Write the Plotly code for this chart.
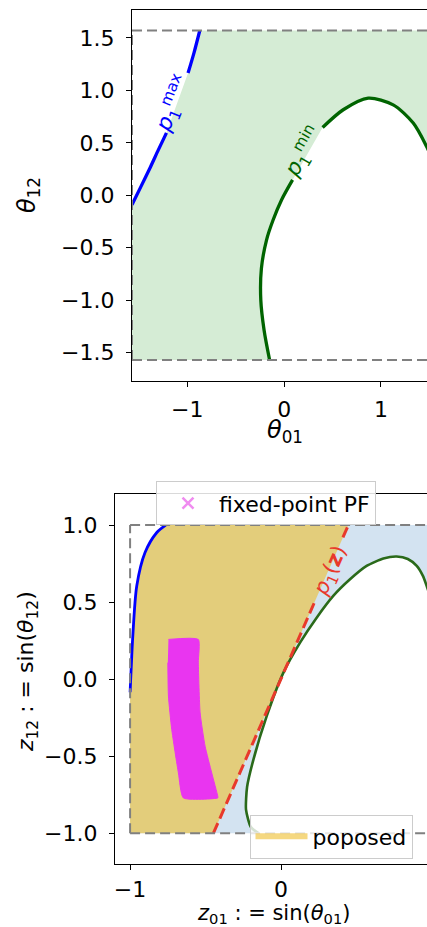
import math
import plotly.graph_objects as go

PI2 = math.pi / 2

# ---------------- top panel: theta space ----------------
box_theta = [-PI2, PI2]
# p1^max contour (label gap between the two pieces)
pmax_lo_t01 = [-1.5708, -1.48, -1.38, -1.30, -1.215]
pmax_lo_t12 = [-0.09, 0.08, 0.27, 0.43, 0.595]
pmax_hi_t01 = [-0.992, -0.93, -0.871]
pmax_hi_t12 = [1.165, 1.36, 1.5708]
# p1^min contour
pmin_lo_t01 = [-0.15, -0.207, -0.241, -0.235, -0.182, -0.114, -0.027, 0.087]
pmin_lo_t12 = [-1.5708, -1.287, -1.0, -0.70, -0.427, -0.236, -0.045, 0.146]
pmin_hi_t01 = [0.397, 0.610, 0.868, 1.126, 1.333, 1.471, 1.5708]
pmin_hi_t12 = [0.646, 0.815, 0.926, 0.862, 0.688, 0.464, 0.25]

# ---------------- bottom panel: z = sin(theta) space ----------------
box_z = [-1.0, 1.0]
zmax_z01 = [-1.0, -0.989, -0.982, -0.956, -0.901, -0.823, -0.764]
zmax_z12 = [-0.085, 0.150, 0.28, 0.605, 0.822, 0.952, 1.0]
zmin_z01 = [-0.15, -0.20, -0.232, -0.225, -0.183, -0.095, 0.015, 0.126, 0.236, 0.346, 0.457,
            0.567, 0.678, 0.766, 0.84, 0.899, 0.94, 0.965, 1.0]
zmin_z12 = [-1.0, -0.96, -0.847, -0.70, -0.522, -0.240, 0.041, 0.237, 0.399, 0.540, 0.648,
            0.735, 0.783, 0.796, 0.78, 0.735, 0.67, 0.605, 0.50]
red_lo_z01 = [-0.448, 0.222]
red_lo_z12 = [-1.0, 0.50]
red_hi_z01 = [0.410, 0.446]
red_hi_z12 = [0.92, 1.0]
band_z01 = [-0.746, -0.548, -0.548, -0.536, -0.503, -0.459, -0.419, -0.419,
            -0.647, -0.68, -0.724, -0.746, -0.75]
band_z12 = [0.258, 0.258, 0.107, -0.219, -0.436, -0.609, -0.761, -0.771,
            -0.771, -0.609, -0.327, -0.11, 0.107]

FONT = "DejaVu Sans"
GRAY = "#808080"
fig = go.Figure()

# ---- top panel ----
pmax_t01 = pmax_lo_t01 + pmax_hi_t01
pmax_t12 = pmax_lo_t12 + pmax_hi_t12
pmin_t01 = pmin_lo_t01 + pmin_hi_t01
pmin_t12 = pmin_lo_t12 + pmin_hi_t12
gx = [box_theta[0]] + pmax_t01 + [box_theta[1]] + pmin_t01[::-1]
gy = [box_theta[0]] + pmax_t12 + [box_theta[1]] + pmin_t12[::-1]
fig.add_trace(go.Scatter(x=gx, y=gy, fill="toself", fillcolor="#d5ecd5", mode="none",
                         showlegend=False, xaxis="x", yaxis="y"))
for xs, ys, c in [(pmax_lo_t01, pmax_lo_t12, "#0000ff"), (pmax_hi_t01, pmax_hi_t12, "#0000ff"),
                  (pmin_lo_t01, pmin_lo_t12, "#006400"), (pmin_hi_t01, pmin_hi_t12, "#006400")]:
    fig.add_trace(go.Scatter(x=xs, y=ys, mode="lines", line=dict(color=c, width=3.3, shape="spline", smoothing=0.8),
                             showlegend=False, xaxis="x", yaxis="y"))
dash_g = "10px,5px"
for xs, ys in [([box_theta[0], box_theta[1]], [box_theta[1], box_theta[1]]),
               ([box_theta[0], box_theta[1]], [box_theta[0], box_theta[0]]),
               ([box_theta[0], box_theta[0]], [box_theta[0], box_theta[1]])]:
    fig.add_trace(go.Scatter(x=xs, y=ys, mode="lines", line=dict(color=GRAY, width=2, dash=dash_g),
                             showlegend=False, xaxis="x", yaxis="y"))

# ---- bottom panel ----
bx = [box_z[0]] + zmax_z01 + [box_z[1]] + zmin_z01[::-1]
by = [box_z[0]] + zmax_z12 + [box_z[1]] + zmin_z12[::-1]
fig.add_trace(go.Scatter(x=bx, y=by, fill="toself", fillcolor="#d3e3f1", mode="none",
                         showlegend=False, xaxis="x2", yaxis="y2"))
gold_x = [box_z[0]] + zmax_z01 + [red_hi_z01[-1], red_lo_z01[0]]
gold_y = [box_z[0]] + zmax_z12 + [red_hi_z12[-1], red_lo_z12[0]]
fig.add_trace(go.Scatter(x=gold_x, y=gold_y, fill="toself", fillcolor="rgba(238,190,45,0.6)",
                         mode="none", name="poposed", legend="legend2", showlegend=True,
                         xaxis="x2", yaxis="y2"))
fig.add_trace(go.Scatter(x=band_z01, y=band_z12, fill="toself", fillcolor="#e935f0",
                         mode="lines", line=dict(color="#e935f0", width=1, shape="spline", smoothing=0.5),
                         showlegend=False, xaxis="x2", yaxis="y2"))
fig.add_trace(go.Scatter(x=[None], y=[None], mode="markers", name="fixed-point PF",
                         marker=dict(symbol="x-thin", size=11, line=dict(color="#f08cf0", width=2.5)),
                         legend="legend", xaxis="x2", yaxis="y2"))
fig.add_trace(go.Scatter(x=zmax_z01, y=zmax_z12, mode="lines",
                         line=dict(color="#0000ff", width=2.8, shape="spline", smoothing=0.8),
                         showlegend=False, xaxis="x2", yaxis="y2"))
fig.add_trace(go.Scatter(x=zmin_z01, y=zmin_z12, mode="lines",
                         line=dict(color="#2a6a1a", width=2.6, shape="spline", smoothing=0.6),
                         showlegend=False, xaxis="x2", yaxis="y2"))
for xs, ys in [(red_lo_z01, red_lo_z12), (red_hi_z01, red_hi_z12)]:
    fig.add_trace(go.Scatter(x=xs, y=ys, mode="lines", line=dict(color="#e8392b", width=3, dash="11px,5px"),
                             showlegend=False, xaxis="x2", yaxis="y2"))
for xs, ys in [([box_z[0], box_z[1]], [box_z[1], box_z[1]]),
               ([box_z[0], box_z[1]], [box_z[0], box_z[0]]),
               ([box_z[0], box_z[0]], [box_z[0], box_z[1]])]:
    fig.add_trace(go.Scatter(x=xs, y=ys, mode="lines", line=dict(color=GRAY, width=2, dash=dash_g),
                             showlegend=False, xaxis="x2", yaxis="y2"))

W, H = 427, 927
tickf = dict(family=FONT, size=22, color="black")
ax_common = dict(showline=True, linecolor="black", linewidth=1.3, ticks="outside", ticklen=5,
                 tickwidth=1.3, tickcolor="black", showgrid=False, zeroline=False, tickfont=tickf)

fig.update_layout(
    width=W, height=H, margin=dict(l=0, r=0, t=0, b=0),
    paper_bgcolor="white", plot_bgcolor="white",
    font=dict(family=FONT, color="black"),
    xaxis=dict(domain=[132 / W, 1], range=[-PI2, 1.475], anchor="y", mirror=True,
               tickvals=[-1, 0, 1], ticklabelstandoff=3, **ax_common),
    yaxis=dict(domain=[1 - 381 / H, 1 - 9.5 / H], range=[-PI2 - 0.2, PI2 + 0.2], anchor="x",
               tickvals=[-1.5, -1, -0.5, 0, 0.5, 1, 1.5], tickformat=".1f", ticklabelstandoff=7, **ax_common),
    xaxis2=dict(domain=[115 / W, 1], range=[-1.1, 0.967], anchor="y2", mirror=True,
                tickvals=[-1, 0, 1], ticklabelstandoff=0, **ax_common),
    yaxis2=dict(domain=[1 - 864 / H, 1 - 494.3 / H], range=[-1.2, 1.2], anchor="x2",
                tickvals=[-1, -0.5, 0, 0.5, 1], tickformat=".1f", ticklabelstandoff=7, **ax_common),
    legend=dict(x=266 / W, y=1 - 503.3 / H, xanchor="center", yanchor="middle",
                bgcolor="rgba(255,255,255,0.85)", bordercolor="#cccccc", borderwidth=1,
                font=dict(family=FONT, size=22), itemwidth=52),
    legend2=dict(x=331 / W, y=1 - 836.5 / H, xanchor="center", yanchor="middle",
                 bgcolor="rgba(255,255,255,0.8)", bordercolor="#cccccc", borderwidth=1,
                 font=dict(family=FONT, size=22), itemwidth=52),
)

ann = []
def title(text, x, y, angle=0, size=24):
    ann.append(dict(text=text, x=x / W, y=1 - y / H, xref="paper", yref="paper", showarrow=False,
                    textangle=angle, xanchor="center", yanchor="middle",
                    font=dict(family=FONT, size=size, color="black")))

title("<i>θ</i><sub>12</sub>", 28, 195, -90)
title("<i>θ</i><sub>01</sub>", 285, 431)
title("<i>z</i><sub>01</sub> : = sin(<i>θ</i><sub>01</sub>)", 273, 914, 0, 21)
title("<i>z</i><sub>12</sub> : = sin(<i>θ</i><sub>12</sub>)", 27, 672, -90, 22)

ann.append(dict(text="<i>p</i><sub>1</sub><sup>max</sup>", x=-1.15, y=0.87, xref="x", yref="y",
                showarrow=False, textangle=-68, font=dict(family=FONT, size=22, color="#0000ff")))
ann.append(dict(text="<i>p</i><sub>1</sub><sup>min</sup>", x=0.20, y=0.41, xref="x", yref="y",
                showarrow=False, textangle=-60, font=dict(family=FONT, size=22, color="#006400")))
ann.append(dict(text="<i>p</i><sub>1</sub>(<b>z</b>)", x=0.33, y=0.70, xref="x2", yref="y2",
                showarrow=False, textangle=-66, font=dict(family=FONT, size=21, color="#e8392b")))
fig.update_layout(annotations=ann)

fig.write_html("out.html", config={"displayModeBar": False},
               post_script="document.body.style.margin='0';")
